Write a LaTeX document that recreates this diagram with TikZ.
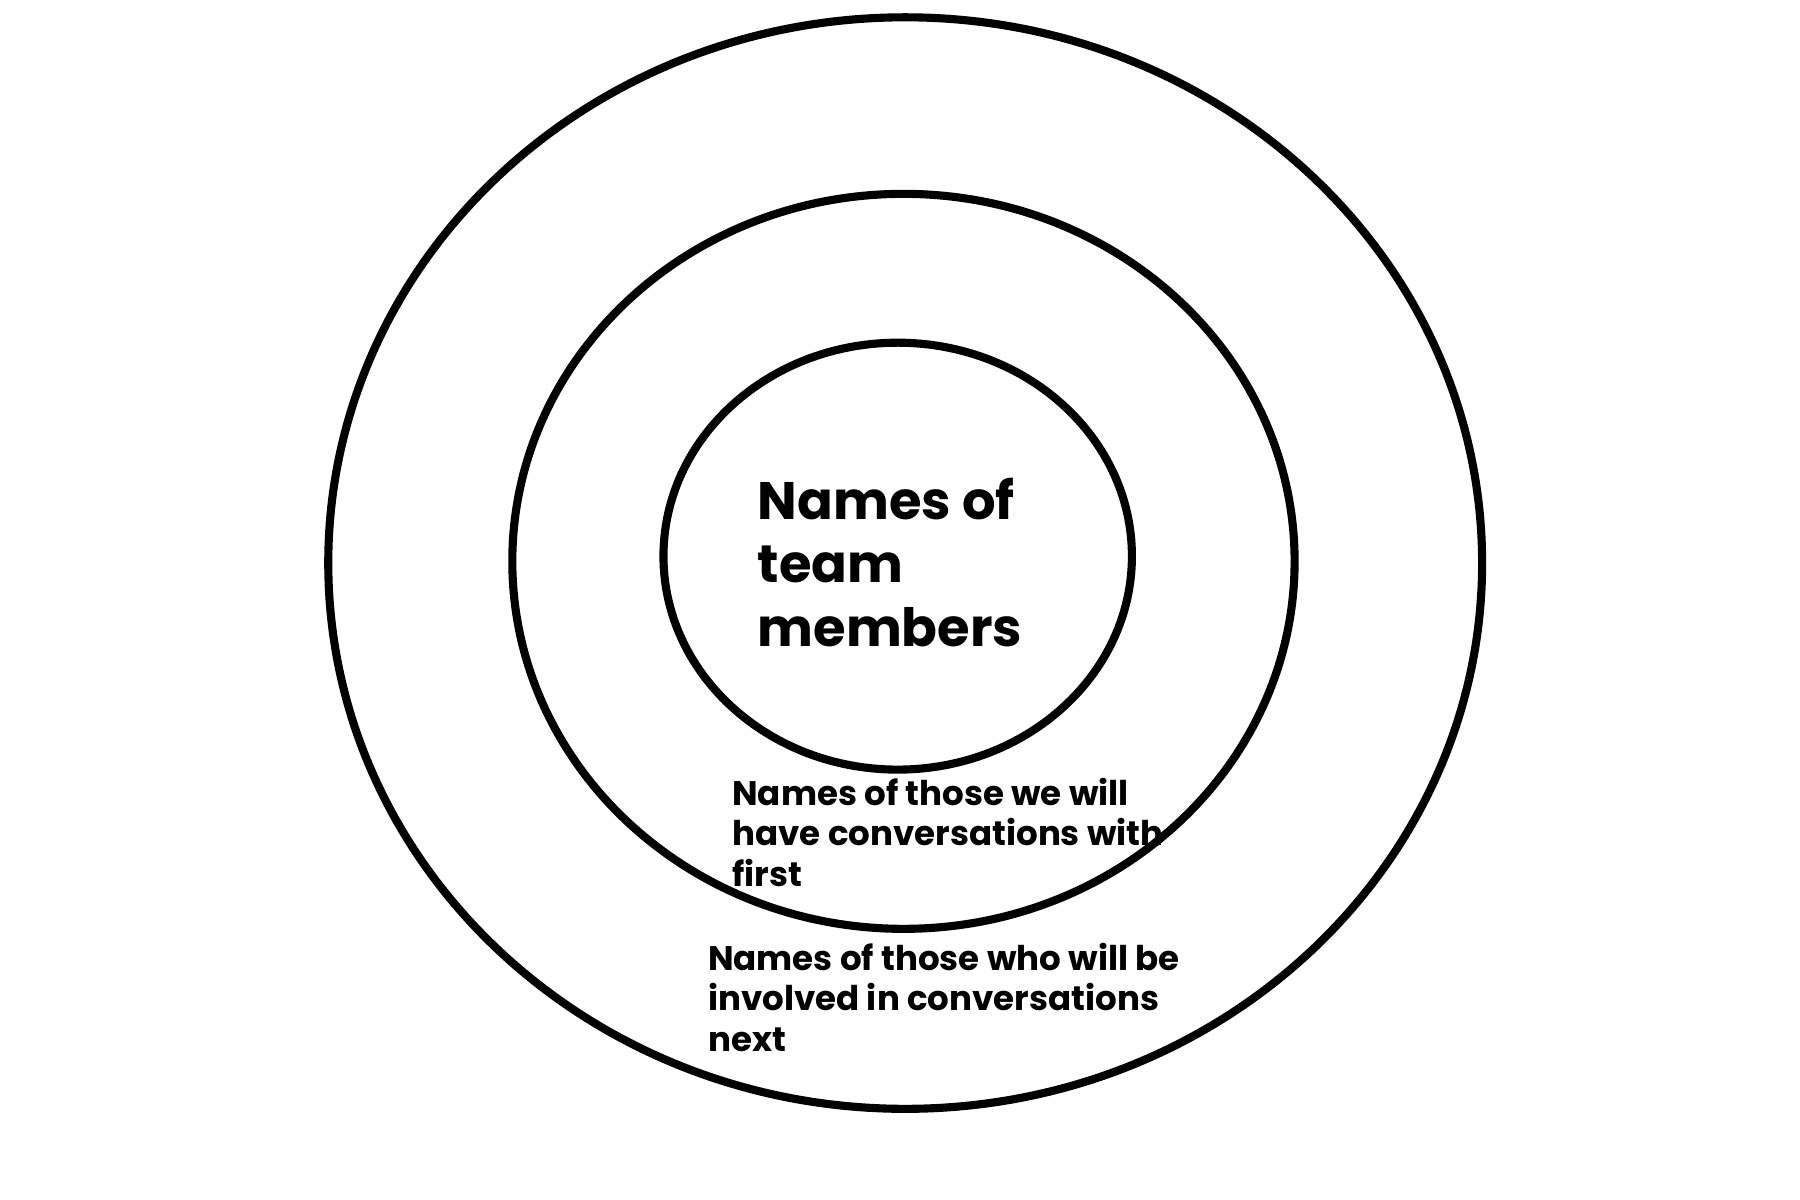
\documentclass[tikz,border=0pt]{standalone}
\usepackage{fontspec}
\setmainfont{Poppins}
\begin{document}
\begin{tikzpicture}[x=0.01cm,y=-0.01cm,
  ring/.style={draw=black,line width=2pt},
  lbl/.style={anchor=base west,inner sep=0pt,align=left,font=\bfseries},
  big/.style={lbl,font=\fontsize{13}{15}\selectfont\bfseries},
  small/.style={lbl,font=\fontsize{8.4}{10}\selectfont\bfseries}]
\useasboundingbox (0,0) rectangle (1560,1040);
\draw[ring] (784.5,488) ellipse [x radius=500,y radius=473];
\draw[ring] (783,486.5) ellipse [x radius=339,y radius=318.5];
\draw[ring] (778,482) ellipse [x radius=203,y radius=185];
\node[big] (a) at (656,450) {Names of};
\node[big] (a2) at (656,505) {team};
\node[big] (a3) at (656,560) {members};
\node[small] (b) at (634,698) {Names of those we will};
\node[small] (b2) at (634,733) {have conversations with};
\node[small] (b3) at (634,768) {first};
\node[small] (c) at (613,841) {Names of those who will be};
\node[small] (c2) at (613,876) {involved in conversations};
\node[small] (c3) at (613,911) {next};
\end{tikzpicture}
\end{document}
